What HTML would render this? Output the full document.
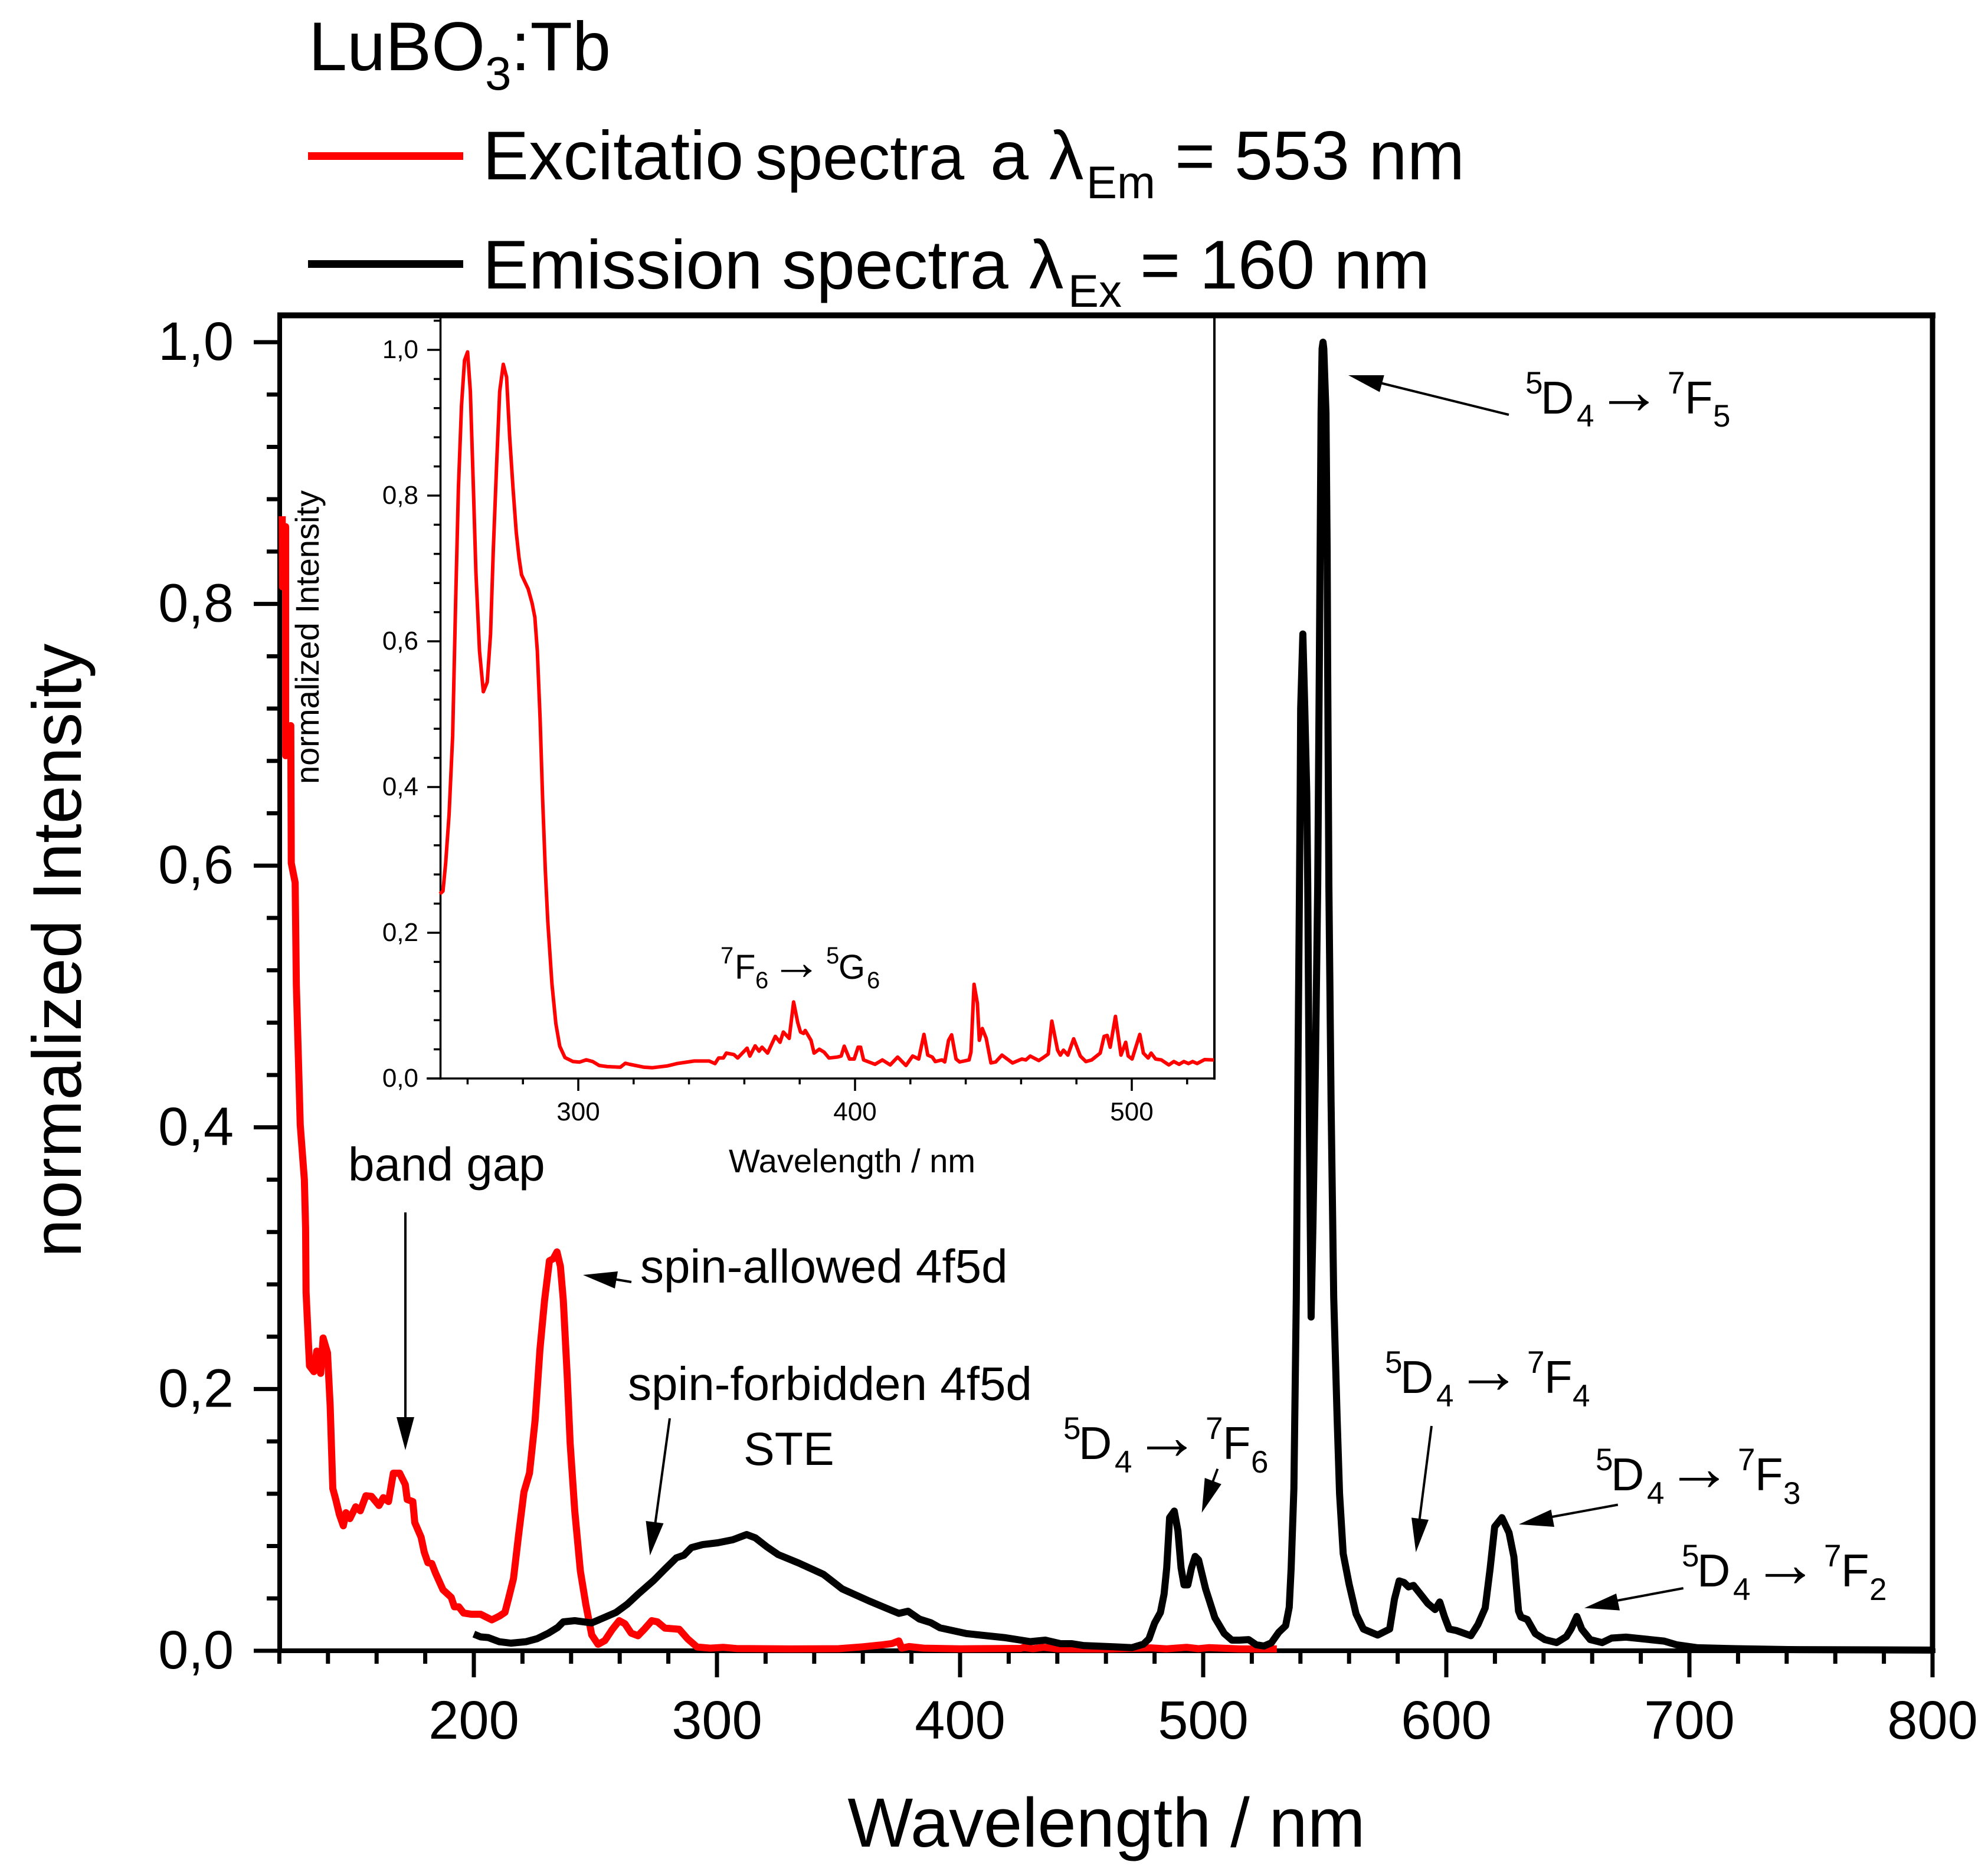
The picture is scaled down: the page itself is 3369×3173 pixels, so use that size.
<!DOCTYPE html>
<html lang="en">
<head>
<meta charset="utf-8">
<title>LuBO3:Tb excitation and emission spectra</title>
<style>
html,body{margin:0;padding:0;background:#fff;}
svg{display:block;}
text{font-family:"Liberation Sans",sans-serif;fill:#000;}
</style>
</head>
<body>
<svg id="chart" xmlns="http://www.w3.org/2000/svg" width="3369" height="3173" viewBox="0 0 3369 3173">
<rect x="0" y="0" width="3369" height="3173" fill="#fff"/>

<g id="axes-layer"></g>
<g id="series-layer"></g>

<g>
<text x="523" y="119" font-size="117">LuBO</text>
<text x="822" y="152" font-size="80">3</text>
<text x="866" y="119" font-size="117">:Tb</text>
</g>
<g>
<rect x="522" y="258" width="263" height="13" fill="#ff0000"/>
<text x="818" y="304" font-size="117">Excitatio</text>
<text x="1280" y="304" font-size="108">spectra</text>
<text x="1678" y="304" font-size="117">a</text>
<text x="1778" y="304" font-size="117">λ</text>
<text x="1841" y="336" font-size="78">Em</text>
<text x="1991" y="304" font-size="117">= 553 nm</text>
</g>
<g>
<rect x="522" y="441" width="263" height="13" fill="#000"/>
<text x="818" y="489" font-size="117">Emission spectra</text>
<text x="1744" y="489" font-size="117">λ</text>
<text x="1810" y="520" font-size="78">Ex</text>
<text x="1932" y="489" font-size="117">= 160 nm</text>
</g>

<text x="1875" y="3130" font-size="117.5" text-anchor="middle">Wavelength / nm</text>
<text transform="translate(137 1611) rotate(-90)" font-size="117" text-anchor="middle">normalized Intensity</text>
<text x="1444" y="1987" font-size="56" text-anchor="middle">Wavelength / nm</text>
<text transform="translate(540 1080) rotate(-90)" font-size="56" text-anchor="middle">normalized Intensity</text>

<g>
<text x="1221" y="1633" font-size="40">7</text>
<text x="1245" y="1659" font-size="58">F</text>
<text x="1280" y="1675" font-size="40">6</text>
<text x="1306" y="1660" font-size="87">→</text>
<text x="1400" y="1633" font-size="40">5</text>
<text x="1421" y="1659" font-size="58">G</text>
<text x="1469" y="1675" font-size="40">6</text>
</g>

<text x="590" y="2001" font-size="80">band gap</text>
<text x="1085" y="2174" font-size="80">spin-allowed 4f5d</text>
<text x="1064" y="2373" font-size="80">spin-forbidden 4f5d</text>
<text x="1260" y="2483" font-size="79">STE</text>

<g>
<text x="1802" y="2439" font-size="53">5</text><text x="1828" y="2473" font-size="78">D</text><text x="1889" y="2496" font-size="53">4</text>
<text x="1921" y="2473" font-size="113">→</text>
<text x="2043" y="2439" font-size="53">7</text><text x="2072" y="2473" font-size="78">F</text><text x="2120" y="2496" font-size="53">6</text>
</g>
<g>
<text x="2585" y="667" font-size="53">5</text><text x="2611" y="701" font-size="78">D</text><text x="2672" y="723" font-size="53">4</text>
<text x="2704" y="701" font-size="113">→</text>
<text x="2826" y="667" font-size="53">7</text><text x="2855" y="701" font-size="78">F</text><text x="2903" y="723" font-size="53">5</text>
</g>
<g>
<text x="2347" y="2327" font-size="53">5</text><text x="2373" y="2361" font-size="78">D</text><text x="2434" y="2384" font-size="53">4</text>
<text x="2466" y="2361" font-size="113">→</text>
<text x="2588" y="2327" font-size="53">7</text><text x="2617" y="2361" font-size="78">F</text><text x="2665" y="2384" font-size="53">4</text>
</g>
<g>
<text x="2704" y="2492" font-size="53">5</text><text x="2730" y="2526" font-size="78">D</text><text x="2791" y="2549" font-size="53">4</text>
<text x="2823" y="2526" font-size="113">→</text>
<text x="2945" y="2492" font-size="53">7</text><text x="2974" y="2526" font-size="78">F</text><text x="3022" y="2549" font-size="53">3</text>
</g>
<g>
<text x="2850" y="2655" font-size="53">5</text><text x="2876" y="2689" font-size="78">D</text><text x="2937" y="2712" font-size="53">4</text>
<text x="2969" y="2689" font-size="113">→</text>
<text x="3091" y="2655" font-size="53">7</text><text x="3120" y="2689" font-size="78">F</text><text x="3168" y="2712" font-size="53">2</text>
</g>

<g stroke="#000" stroke-width="4" fill="#000">
<g><line x1="687" y1="2055" x2="687" y2="2410"/><polygon stroke="none" points="687,2458 672,2402 702,2402"/></g>
<g><line x1="1070" y1="2173" x2="1040" y2="2168"/><polygon stroke="none" points="988,2161 1047,2155 1042,2184"/></g>
<g><line x1="1135" y1="2404" x2="1110" y2="2585"/><polygon stroke="none" points="1101.5,2636.5 1094.5,2578 1124.5,2582"/></g>
<g><line x1="2557" y1="703" x2="2335" y2="648"/><polygon stroke="none" points="2285,636 2345.7,636 2338,664.5"/></g>
<g><line x1="2063.4" y1="2489.7" x2="2052" y2="2520"/><polygon stroke="none" points="2036.6,2564 2041.7,2505 2069.8,2515.6"/></g>
<g><line x1="2426" y1="2417" x2="2405" y2="2580"/><polygon stroke="none" points="2399.5,2631 2392,2572.4 2421,2576"/></g>
<g><line x1="2741.8" y1="2550.5" x2="2625" y2="2572"/><polygon stroke="none" points="2574,2583.7 2628.5,2558.7 2634,2588"/></g>
<g><line x1="2852.7" y1="2692" x2="2735" y2="2714"/><polygon stroke="none" points="2685,2725.5 2739,2701 2745,2729.6"/></g>
</g>
</svg>

<script>
// Main chart: excitation spectrum (red)
const excitationWavelengths = [121.2,121.3,122.6,122.6,124.7,124.9,126.5,127,128.6,130.3,130.8,131,132.4,134.2,135.4,137,138,139.8,140.9,142,143.2,144.7,146.3,147.4,149,151.4,153.3,155.6,157.9,161,162.8,164.9,166.9,169.5,171.8,172.6,174.9,175.7,178.3,179.6,181.1,182.7,184.2,187.3,190.7,192,193.8,195.8,198.9,202.8,207.4,210.5,212.8,214.4,216.3,218.3,220.6,222.9,225.2,227.2,229.1,231.1,232.7,234.2,235.6,236.8,238.4,239.6,241.5,243.8,246.1,248.5,251.1,253.9,257,259.8,262.1,264.7,267.5,270.1,273.2,275.5,278.6,284.5,287.9,291.8,297.2,302.6,308,330,350,360,368,372,374.8,376,379,385,400,425,426,430,434.4,440,460,478.5,485,493.2,498,502.5,515,530.3];
const excitationIntensities = [0.867,0.813,0.859,0.684,0.707,0.602,0.587,0.509,0.402,0.36,0.3226,0.274,0.2177,0.2133,0.229,0.212,0.239,0.2277,0.1875,0.124,0.1156,0.104,0.0955,0.1055,0.101,0.11,0.107,0.1185,0.118,0.111,0.117,0.114,0.1357,0.1357,0.127,0.1156,0.114,0.098,0.0868,0.0753,0.0673,0.0667,0.0595,0.0466,0.0408,0.0336,0.0336,0.0288,0.0279,0.0279,0.0236,0.0265,0.0293,0.0408,0.0552,0.0868,0.1213,0.1357,0.176,0.2306,0.268,0.298,0.2996,0.3048,0.2938,0.268,0.2105,0.1587,0.107,0.061,0.0351,0.0121,0.0049,0.0078,0.0164,0.023,0.0207,0.0135,0.0115,0.0164,0.023,0.0221,0.0173,0.0164,0.0092,0.0029,0.002,0.0026,0.0017,0.0014,0.0016,0.003,0.0045,0.0055,0.0075,0.002,0.0032,0.002,0.0015,0.0018,0.0025,0.0016,0.0026,0.0015,0.0013,0.0022,0.0015,0.0026,0.0016,0.0024,0.0014,0.0014];

// Main chart: emission spectrum (black)
const emissionWavelengths = [200,202.8,205.9,210.5,215.2,221.4,226,230.7,234.5,236.8,241.5,248.5,253.1,258.5,263.2,267.8,274,278.6,283.3,286.4,289.5,294.1,300.3,306.5,312.2,315.8,320.4,325.2,333.7,343.8,351.5,362.4,370.1,374.8,378.6,383.3,387.9,391.8,402.6,418.1,428.9,435.1,441.3,446,450.6,463,470.7,475.4,477.7,480,482.4,483.9,485,486.2,488.1,489.6,490.9,492.1,493.7,495.2,496.7,498.1,501,504.8,508.7,511.8,514.9,518.7,521.8,525,528,531.1,533.9,535.4,536.2,537.3,538.3,539,539.6,539.9,540.1,541,541.8,542.6,543,543.7,544.4,545.2,546.2,547.1,547.8,548.1,548.5,548.9,549.3,549.6,550.5,551,551.2,551.7,552.6,553.7,555.1,556.1,557.6,560,562.9,565.9,568.8,571.8,576.7,578.7,580.6,582.6,584.5,586.5,589.5,592.4,595.4,597.3,599.3,601.2,604.2,610.1,613,616,618,619.9,622.9,625.8,627.8,629.7,630.7,633.3,636.6,640.5,645.4,649.4,651.3,653.7,655.7,659.2,664.1,668,673.9,683.8,689.6,694.6,703.4,719.1,740.7,799.7];
const emissionIntensities = [0.0127,0.0106,0.0101,0.0069,0.0058,0.0069,0.0092,0.0135,0.0178,0.0221,0.023,0.0213,0.025,0.0293,0.0357,0.0437,0.0538,0.0624,0.071,0.073,0.0788,0.0811,0.0825,0.0848,0.0888,0.0863,0.0796,0.0735,0.067,0.0584,0.0473,0.0382,0.0322,0.0286,0.0302,0.0242,0.0215,0.0175,0.0131,0.0101,0.007,0.0081,0.0054,0.0054,0.004,0.003,0.0024,0.005,0.0091,0.0211,0.0292,0.0433,0.0634,0.1017,0.1067,0.0916,0.0634,0.0503,0.0503,0.0634,0.0721,0.0694,0.0473,0.0252,0.0131,0.0081,0.0081,0.0085,0.0046,0.0036,0.006,0.0141,0.0191,0.0332,0.0634,0.1238,0.27,0.45,0.585,0.656,0.72,0.777,0.72,0.656,0.585,0.4,0.255,0.33,0.45,0.585,0.757,0.84,0.946,0.995,1.0,0.995,0.946,0.84,0.757,0.585,0.42,0.27,0.1776,0.12,0.0741,0.0511,0.0281,0.0166,0.0143,0.012,0.0166,0.0396,0.0534,0.0522,0.0488,0.0499,0.043,0.0361,0.0315,0.0373,0.0258,0.0166,0.0154,0.0115,0.02,0.0327,0.0626,0.0948,0.1017,0.0902,0.0718,0.0304,0.0258,0.0239,0.0131,0.0085,0.0062,0.0108,0.0166,0.0262,0.0166,0.0085,0.0062,0.0097,0.0104,0.0085,0.0074,0.0046,0.0023,0.0016,0.0009,0.0005];

// Inset: excitation spectrum detail (red)
const insetWavelengths = [250,251.1,252.1,253.3,254.6,255.7,256.7,257.8,258.9,260,261,262.1,263,264.3,265.7,267.1,268.3,269.3,270.5,271.6,272.9,274.1,275.2,276.4,277.6,278.6,279.5,281.9,283.3,284.3,285.2,286.2,287.1,288.1,289,290.5,291.9,293.3,295.2,298.1,300.5,302.9,305.2,307.6,310.5,315.2,317,318.6,323.8,326.7,332.3,335.7,341.9,347.3,349.4,350.7,352.4,353.5,356.2,357.6,361,362,363.9,365.3,366.4,368.4,371.2,372.9,374.1,376.2,377.8,379.3,380.3,381.4,382,384.1,385.2,387.1,388.8,390.6,393.6,395,396.1,398,399.7,401.1,402,403.1,407.2,409.9,412.7,415.4,418.4,420.8,423,424.9,426.3,427.9,429,431.4,432.4,433.8,434.9,436.5,437.8,441.2,441.9,443,444.2,444.9,446,447.4,449.1,450.8,453.1,456.9,460.3,461.7,463.3,466.4,467.8,469.8,471.1,473.2,474.2,475.3,476.9,479,481.4,483.4,485.5,488.6,490,491.1,492.2,494.1,496.1,497.8,498.7,500.1,502.9,504.2,505.9,507,508.6,510.7,513.4,515.2,517.1,518.8,520.5,522,523.6,526.3,529.7];
const insetIntensities = [0.2534,0.2572,0.296,0.3618,0.4703,0.6563,0.8113,0.9236,0.9856,0.9972,0.943,0.8113,0.695,0.5866,0.5308,0.544,0.6098,0.726,0.8423,0.943,0.9802,0.9624,0.881,0.8113,0.7493,0.7144,0.6912,0.6718,0.6524,0.633,0.5866,0.4936,0.3851,0.2844,0.2146,0.1294,0.0752,0.0442,0.0287,0.0232,0.0225,0.0256,0.0232,0.0178,0.0163,0.0155,0.0209,0.0194,0.0155,0.0147,0.0173,0.0205,0.024,0.024,0.0205,0.0281,0.0281,0.0348,0.0329,0.0281,0.0416,0.0308,0.0448,0.0375,0.0429,0.0348,0.0578,0.0497,0.0637,0.0551,0.105,0.0767,0.0637,0.0618,0.0659,0.0524,0.0348,0.0402,0.0362,0.0281,0.0294,0.0308,0.0443,0.0267,0.0267,0.0429,0.0429,0.0254,0.0194,0.0254,0.0186,0.0294,0.0178,0.0308,0.0267,0.0605,0.0321,0.0294,0.0232,0.0254,0.0227,0.0524,0.0599,0.0267,0.0227,0.0254,0.0362,0.1292,0.1036,0.0524,0.0686,0.0551,0.0213,0.0227,0.0321,0.0213,0.0267,0.0254,0.0308,0.0246,0.0281,0.0335,0.0788,0.0389,0.0321,0.0389,0.0321,0.0545,0.0308,0.0232,0.0254,0.0348,0.0578,0.0591,0.0429,0.0853,0.0321,0.0497,0.0308,0.0267,0.0605,0.0348,0.0281,0.0348,0.0267,0.0254,0.0186,0.0232,0.0194,0.0232,0.0205,0.0232,0.0205,0.0259,0.0254];

// Tick values and labels
const xMajorTicks = [200,300,400,500,600,700,800];
const xMinorTicks = [120,140,160,180,220,240,260,280,320,340,360,380,420,440,460,480,520,540,560,580,620,640,660,680,720,740,760,780];
const yMajorTicks = [0,0.2,0.4,0.6,0.8,1.0];
const yMajorLabels = ['0,0','0,2','0,4','0,6','0,8','1,0'];
const yMinorTicks = [0.04,0.08,0.12,0.16,0.24,0.28,0.32,0.36,0.44,0.48,0.52,0.56,0.64,0.68,0.72,0.76,0.84,0.88,0.92,0.96];
const insetXMajorTicks = [300,400,500];
const insetXMinorTicks = [260,280,320,340,360,380,420,440,460,480,520];
const insetYMajorTicks = [0,0.2,0.4,0.6,0.8,1.0];
const insetYMajorLabels = ['0,0','0,2','0,4','0,6','0,8','1,0'];
const insetYMinorTicks = [0.04,0.08,0.12,0.16,0.24,0.28,0.32,0.36,0.44,0.48,0.52,0.56,0.64,0.68,0.72,0.76,0.84,0.88,0.92,0.96,1.04];

// Axis functions
function xMain(w){ return 803 + (w - 200) * 4.12; }
function yMain(v){ return 2798 - v * 2218; }
function xInset(w){ return 980 + (w - 300) * 4.69; }
function yInset(v){ return 1828 - v * 1235; }

const NS = 'http://www.w3.org/2000/svg';
const axesLayer = document.getElementById('axes-layer');
const seriesLayer = document.getElementById('series-layer');

function addLine(parent, x1, y1, x2, y2, width, name) {
  const el = document.createElementNS(NS, 'line');
  el.setAttribute('x1', x1);
  el.setAttribute('y1', y1);
  el.setAttribute('x2', x2);
  el.setAttribute('y2', y2);
  el.setAttribute('stroke', '#000');
  el.setAttribute('stroke-width', width);
  
  
  parent.appendChild(el);
}
function addLabel(parent, x, y, size, anchor, content, name) {
  const el = document.createElementNS(NS, 'text');
  el.setAttribute('x', x);
  el.setAttribute('y', y);
  el.setAttribute('font-size', size);
  el.setAttribute('text-anchor', anchor);
  el.textContent = content;
  
  
  parent.appendChild(el);
}
function addSeries(xs, ys, xf, yf, color, width, name) {
  const el = document.createElementNS(NS, 'polyline');
  el.setAttribute('points', xs.map(function (w, i) { return xf(w).toFixed(1) + ',' + yf(ys[i]).toFixed(1); }).join(' '));
  el.setAttribute('fill', 'none');
  el.setAttribute('stroke', color);
  el.setAttribute('stroke-width', width);
  el.setAttribute('stroke-linejoin', 'round');
  
  
  seriesLayer.appendChild(el);
}

// Main frame
addLine(axesLayer, 474, 530, 474, 2802, 8, 'y-axis-line');
addLine(axesLayer, 470, 534.5, 3280, 534.5, 10, 'top-axis-line');
addLine(axesLayer, 3275, 530, 3275, 2802, 9, 'right-axis-line');
addLine(axesLayer, 470, 2798, 3280, 2798, 8, 'x-axis-line');

// Main ticks
xMajorTicks.forEach(function (t) {
  addLine(axesLayer, xMain(t), 2798, xMain(t), 2843, 7, 'x-major-tick');
  addLabel(axesLayer, xMain(t), 2947, 92, 'middle', String(t), 'x-tick-label');
});
xMinorTicks.forEach(function (t) {
  addLine(axesLayer, xMain(t), 2798, xMain(t), 2820, 7, 'x-minor-tick');
});
yMajorTicks.forEach(function (t, i) {
  addLine(axesLayer, 430, yMain(t), 475, yMain(t), 7, 'y-major-tick');
  addLabel(axesLayer, 396, yMain(t) + 30, 92, 'end', yMajorLabels[i], 'y-tick-label');
});
yMinorTicks.forEach(function (t) {
  addLine(axesLayer, 452, yMain(t), 475, yMain(t), 7, 'y-minor-tick');
});

// Inset frame
addLine(axesLayer, 746.5, 534, 746.5, 1830, 3.5, 'inset-y-axis-line');
addLine(axesLayer, 723, 1828, 2060, 1828, 3.5, 'inset-x-axis-line');
addLine(axesLayer, 2058, 534, 2058, 1830, 4, 'inset-right-axis-line');

// Inset ticks
insetXMajorTicks.forEach(function (t) {
  addLine(axesLayer, xInset(t), 1828, xInset(t), 1849, 3.5, 'inset-x-major-tick');
  addLabel(axesLayer, xInset(t), 1899, 44, 'middle', String(t), 'inset-x-tick-label');
});
insetXMinorTicks.forEach(function (t) {
  addLine(axesLayer, xInset(t), 1828, xInset(t), 1838, 3.5, 'inset-x-minor-tick');
});
insetYMajorTicks.forEach(function (t, i) {
  addLine(axesLayer, 724, yInset(t), 746, yInset(t), 3.5, 'inset-y-major-tick');
  addLabel(axesLayer, 709, yInset(t) + 14, 44, 'end', insetYMajorLabels[i], 'inset-y-tick-label');
});
insetYMinorTicks.forEach(function (t) {
  addLine(axesLayer, 735, yInset(t), 746, yInset(t), 3.5, 'inset-y-minor-tick');
});

// Series
addSeries(excitationWavelengths, excitationIntensities, xMain, yMain, '#ff0000', 12, 'excitation-spectrum-line');
addSeries(emissionWavelengths, emissionIntensities, xMain, yMain, '#000000', 12, 'emission-spectrum-line');
addSeries(insetWavelengths, insetIntensities, xInset, yInset, '#ff0000', 6, 'inset-excitation-line');
</script>
</body>
</html>
